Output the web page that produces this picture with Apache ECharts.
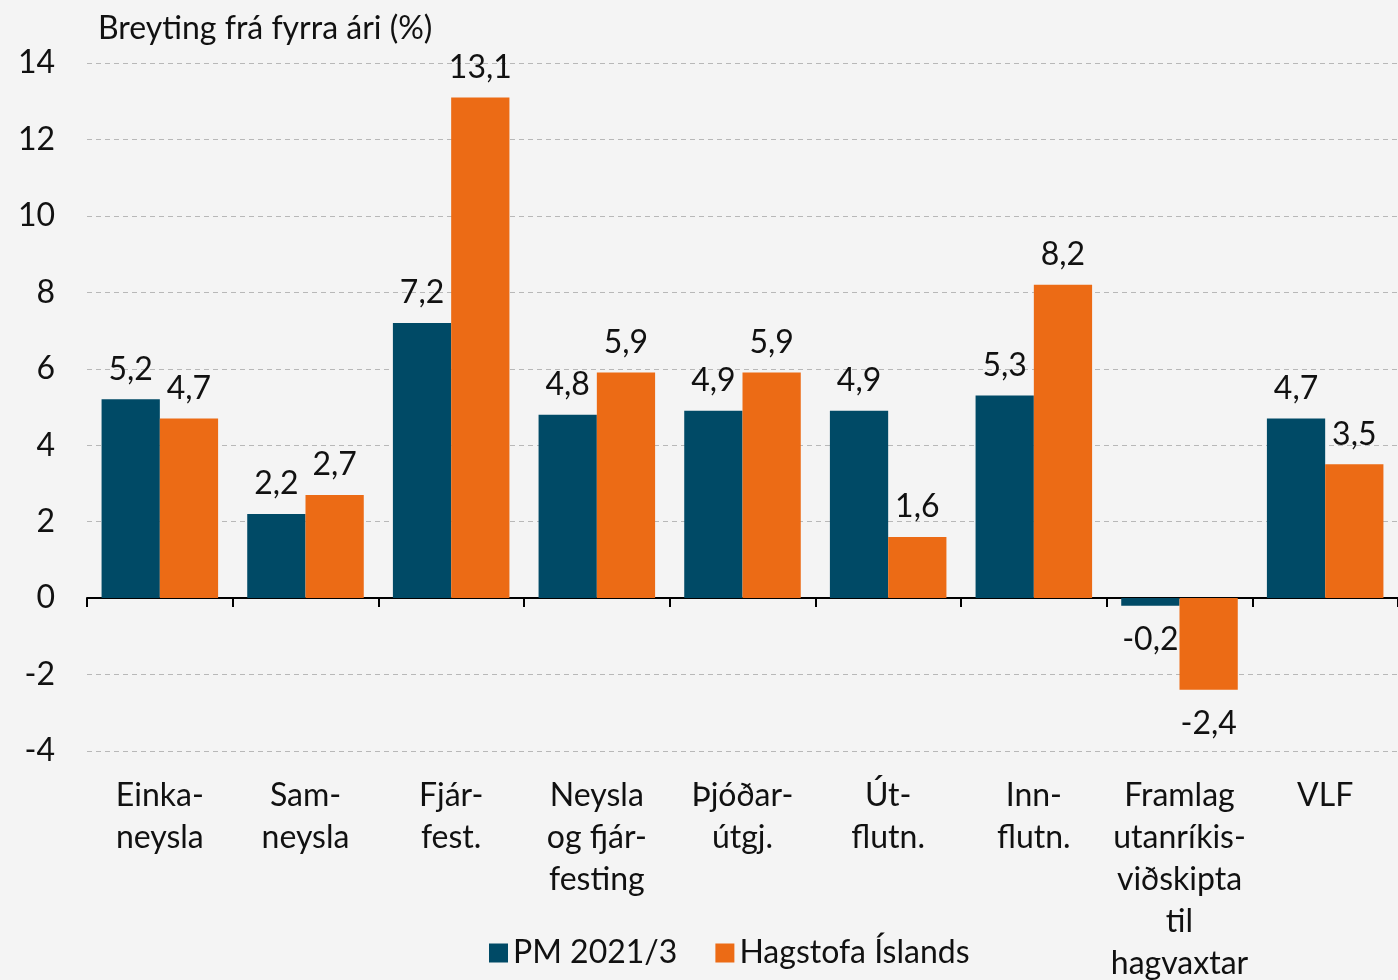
<!DOCTYPE html>
<html>
<head>
<meta charset="utf-8">
<script src="https://cdn.jsdelivr.net/npm/echarts@6/dist/echarts.min.js"></script>
<style>
  html, body { margin: 0; padding: 0; background: #f4f4f4; }
  #chart { width: 1398px; height: 980px; }
</style>
</head>
<body>
<div id="chart"></div>
<script>
var categories = [
  'Einka-\nneysla', 'Sam-\nneysla', 'Fjár-\nfest.', 'Neysla\nog fjár-\nfesting',
  'Þjóðar-\nútgj.', 'Út-\nflutn.', 'Inn-\nflutn.',
  'Framlag\nutanríkis-\nviðskipta\ntil\nhagvaxtar', 'VLF'
];
var pmValues = [5.2, 2.2, 7.2, 4.8, 4.9, 4.9, 5.3, -0.2, 4.7];
var hagstofaValues = [4.7, 2.7, 13.1, 5.9, 5.9, 1.6, 8.2, -2.4, 3.5];
var seriesNames = ['PM 2021/3', 'Hagstofa Íslands'];
var yTitle = 'Breyting frá fyrra ári (%)';

var font = 'Lato, "Open Sans", sans-serif';
var teal = '#004a66';
var orange = '#ec6b15';
var fs = 32;

function fmt(v) { return String(v).replace('.', ','); }

function barData(vals) {
  return vals.map(function(v) {
    return {
      value: v,
      label: { position: v < 0 ? 'bottom' : 'top', distance: v < 0 ? 18 : 14 }
    };
  });
}

var chart = echarts.init(document.getElementById('chart'));
chart.setOption({
  animation: false,
  backgroundColor: '#f4f4f4',
  textStyle: { fontFamily: font },
  title: {
    text: yTitle,
    left: 93, top: 8,
    textStyle: { fontFamily: font, fontSize: fs, fontWeight: 'normal', color: '#111' }
  },
  legend: {
    data: seriesNames,
    bottom: 6,
    left: 484,
    icon: 'rect',
    itemWidth: 19, itemHeight: 19,
    itemGap: 38,
    textStyle: { fontFamily: font, fontSize: fs, color: '#111' }
  },
  grid: { left: 87, right: 0, top: 63, bottom: 229, containLabel: false, outerBoundsMode: 'none' },
  xAxis: {
    type: 'category',
    data: categories,
    axisLine: { onZero: true, lineStyle: { color: '#000', width: 2 } },
    axisTick: { show: true, length: 9, lineStyle: { color: '#000', width: 2 } },
    axisLabel: { margin: 24, fontSize: fs, lineHeight: 42, color: '#111', fontFamily: font, interval: 0 }
  },
  yAxis: {
    type: 'value',
    min: -4, max: 14, interval: 2,
    axisLine: { show: false },
    axisTick: { show: false },
    axisLabel: { fontSize: fs, color: '#111', margin: 32, fontFamily: font },
    splitLine: { lineStyle: { color: '#b8b8b8', type: [5, 4], width: 1 } }
  },
  series: [
    {
      name: seriesNames[0],
      type: 'bar',
      data: barData(pmValues),
      barGap: '0%',
      barCategoryGap: '20%',
      itemStyle: { color: teal },
      label: {
        show: true, fontSize: fs, color: '#111', fontFamily: font,
        formatter: function(p) { return fmt(p.value); }
      }
    },
    {
      name: seriesNames[1],
      type: 'bar',
      data: barData(hagstofaValues),
      barGap: '0%',
      barCategoryGap: '20%',
      itemStyle: { color: orange },
      label: {
        show: true, fontSize: fs, color: '#111', fontFamily: font,
        formatter: function(p) { return fmt(p.value); }
      }
    }
  ]
});
</script>
</body>
</html>
